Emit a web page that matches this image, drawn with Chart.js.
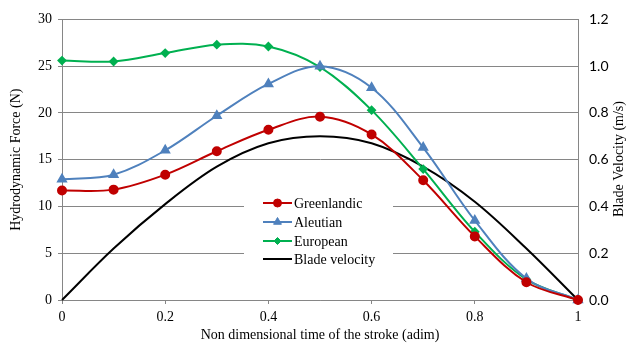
<!DOCTYPE html>
<html>
<head>
<meta charset="utf-8">
<script src="https://cdn.jsdelivr.net/npm/chart.js@4/dist/chart.umd.min.js"></script>
<style>
  html, body { margin: 0; padding: 0; background: #fff; }
</style>
</head>
<body>
<canvas id="graph" width="627" height="345"></canvas>
<script>
// données
var temps = [0, 0.1, 0.2, 0.3, 0.4, 0.5, 0.6, 0.7, 0.8, 0.9, 1];
var greenlandic = [11.7, 11.8, 13.4, 15.9, 18.2, 19.6, 17.7, 12.8, 6.8, 1.9, 0];
var aleutian = [12.9, 13.4, 16.0, 19.7, 23.1, 25.0, 22.7, 16.3, 8.5, 2.3, 0];
var european = [25.6, 25.5, 26.4, 27.3, 27.1, 24.9, 20.3, 14.0, 7.3, 2.2, 0];
var bladeVelocity = [0, 0.22, 0.41, 0.57, 0.67, 0.70, 0.67, 0.57, 0.42, 0.22, 0];

var timeTicks = [0, 0.2, 0.4, 0.6, 0.8, 1];
var forceTicks = [0, 5, 10, 15, 20, 25, 30];
var velocityTicks = [0, 0.2, 0.4, 0.6, 0.8, 1.0, 1.2];

var serif = "'Liberation Serif', 'DejaVu Serif', serif";

// transforme deux listes en points {x, y}
function points(xs, ys) {
  var res = [];
  for (var i = 0; i < xs.length; i++) {
    res.push({ x: xs[i], y: ys[i] });
  }
  return res;
}

// legende dessinee dans la zone du graphique + titre de l'axe droit
var customPlugin = {
  id: "customLegend",
  afterDraw: function(chart) {
    var ctx = chart.ctx;
    ctx.save();

    // titre axe droit (lu de bas en haut)
    ctx.fillStyle = "#000";
    ctx.font = "14px " + serif;
    ctx.textAlign = "center";
    ctx.textBaseline = "middle";
    ctx.translate(619, 159);
    ctx.rotate(-Math.PI / 2);
    ctx.fillText("Blade Velocity (m/s)", 0, 0);
    ctx.setTransform(1, 0, 0, 1, 0, 0);

    // boite de legende
    ctx.fillStyle = "#fff";
    ctx.fillRect(244, 190, 149, 80);

    var rows = [203, 222, 241, 259];
    var sets = chart.data.datasets;
    for (var i = 0; i < sets.length; i++) {
      var ds = sets[i];
      var y = rows[i];
      ctx.strokeStyle = ds.borderColor;
      ctx.lineWidth = 2;
      ctx.beginPath();
      ctx.moveTo(263, y);
      ctx.lineTo(292, y);
      ctx.stroke();
      if (ds.pointRadius > 0) {
        ctx.fillStyle = ds.pointBackgroundColor;
        ctx.strokeStyle = ds.pointBorderColor;
        ctx.lineWidth = 1;
        Chart.helpers.drawPoint(ctx, {
          pointStyle: ds.pointStyle,
          radius: ds.pointRadius,
          borderWidth: 1,
          rotation: 0
        }, 277.5, y);
      }
      ctx.fillStyle = "#000";
      ctx.font = "14px " + serif;
      ctx.textAlign = "left";
      ctx.textBaseline = "middle";
      ctx.fillText(ds.label, 294, y + 1);
    }
    ctx.restore();
  }
};

var canvas = document.getElementById("graph");

var myChart = new Chart(canvas, {
  type: "line",
  data: {
    datasets: [{
      label: "Greenlandic",
      data: points(temps, greenlandic),
      yAxisID: "y",
      borderColor: "#C00000",
      backgroundColor: "#C00000",
      pointBackgroundColor: "#C00000",
      pointBorderColor: "#C00000",
      pointStyle: "circle",
      pointRadius: 4,
      borderWidth: 2,
      tension: 0.35
    }, {
      label: "Aleutian",
      data: points(temps, aleutian),
      yAxisID: "y",
      borderColor: "#4F81BD",
      backgroundColor: "#4F81BD",
      pointBackgroundColor: "#4F81BD",
      pointBorderColor: "#4F81BD",
      pointStyle: "triangle",
      pointRadius: 4.5,
      borderWidth: 2,
      tension: 0.35
    }, {
      label: "European",
      data: points(temps, european),
      yAxisID: "y",
      borderColor: "#00B050",
      backgroundColor: "#00B050",
      pointBackgroundColor: "#00B050",
      pointBorderColor: "#00B050",
      pointStyle: "rectRot",
      pointRadius: 3.5,
      borderWidth: 2,
      tension: 0.35
    }, {
      label: "Blade velocity",
      data: points(temps, bladeVelocity),
      yAxisID: "y1",
      borderColor: "#000000",
      backgroundColor: "#000000",
      pointRadius: 0,
      borderWidth: 2,
      tension: 0.35
    }]
  },
  options: {
    responsive: false,
    animation: false,
    clip: false,
    layout: { padding: { top: 18 } },
    plugins: {
      legend: { display: false },
      tooltip: { enabled: false }
    },
    scales: {
      x: {
        type: "linear",
        min: 0,
        max: 1,
        afterFit: function(scale) { scale.height = 45; },
        afterBuildTicks: function(scale) {
          scale.ticks = timeTicks.map(function(v) { return { value: v }; });
        },
        ticks: {
          color: "#000",
          font: { family: serif, size: 14 },
          padding: 5,
          maxRotation: 0,
          callback: function(v) { return (v === 0 || v === 1) ? String(v) : v.toFixed(1); }
        },
        grid: { display: true, drawOnChartArea: false, drawTicks: true, tickLength: 4, color: "#868686" },
        border: { display: true, color: "#868686", width: 1 },
        title: {
          display: true,
          text: "Non dimensional time of the stroke (adim)",
          color: "#000",
          font: { family: serif, size: 14 },
          padding: { top: 0, bottom: 1 }
        }
      },
      y: {
        position: "left",
        min: 0,
        max: 30,
        afterFit: function(scale) { scale.width = 62; },
        afterBuildTicks: function(scale) {
          scale.ticks = forceTicks.map(function(v) { return { value: v }; });
        },
        ticks: {
          color: "#000",
          font: { family: serif, size: 14 },
          padding: 6
        },
        grid: { color: "#868686", lineWidth: 1, drawTicks: true, tickLength: 4 },
        border: { display: true, color: "#868686", width: 1 },
        title: {
          display: true,
          text: "Hydrodynamic Force (N)",
          color: "#000",
          font: { family: serif, size: 14 },
          padding: { top: 8, bottom: 0 }
        }
      },
      y1: {
        position: "right",
        min: 0,
        max: 1.2,
        afterFit: function(scale) { scale.width = 49; },
        afterBuildTicks: function(scale) {
          scale.ticks = velocityTicks.map(function(v) { return { value: v }; });
        },
        ticks: {
          color: "#000",
          font: { family: "Lato, 'Liberation Sans', sans-serif", size: 14 },
          padding: 11,
          callback: function(v) { return v.toFixed(1); }
        },
        grid: { display: false, drawTicks: false },
        border: { display: true, color: "#868686", width: 1 }
      }
    }
  },
  plugins: [customPlugin]
});
</script>
</body>
</html>
